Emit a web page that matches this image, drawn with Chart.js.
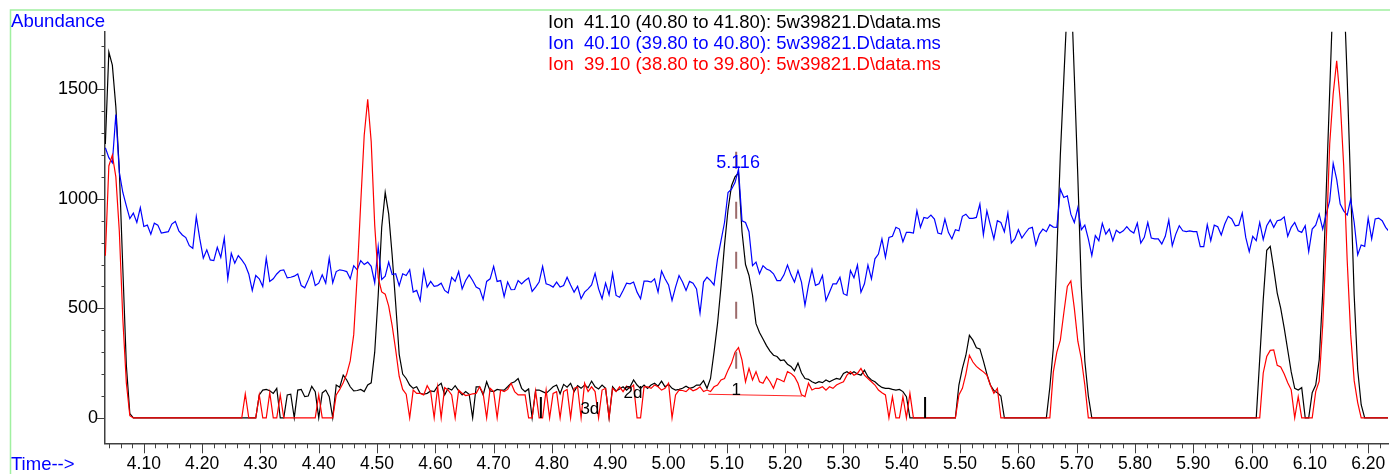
<!DOCTYPE html>
<html>
<head>
<meta charset="utf-8">
<title>Ion chromatogram 5w39821</title>
<script src="https://cdn.jsdelivr.net/npm/chart.js@4.4.1/dist/chart.umd.min.js"></script>
<style>
  html, body { margin: 0; padding: 0; background: #fff; }
  #wrap { width: 1390px; height: 474px; }
</style>
</head>
<body>
<div id="wrap"><canvas id="ionChart" width="1390" height="474"></canvas></div>
<script>
// scan timing of the run (min)
const START_TIME = 4.034;
const SCAN_STEP = 0.006;

// Ion 41.10 abundance per scan
const ion41 = [
  1250, 1670, 1610, 1420, 1130, 680, 240, 20, 0, 0,
  0, 0, 0, 0, 0, 0, 0, 0, 0, 0,
  0, 0, 0, 0, 0, 0, 0, 0, 0, 0,
  0, 0, 0, 0, 0, 0, 0, 0, 0, 0,
  0, 0, 0, 0, 105, 127, 130, 124, 112, 135,
  0, 0, 105, 108, 0, 127, 130, 97, 100, 144,
  120, 0, 114, 127, 97, 0, 150, 140, 195, 173,
  142, 123, 125, 130, 120, 150, 160, 300, 560, 870,
  1029, 930, 740, 520, 290, 200, 180, 150, 135, 142,
  112, 108, 112, 123, 120, 145, 158, 105, 135, 127,
  147, 123, 105, 120, 108, 0, 142, 142, 105, 165,
  123, 120, 130, 127, 127, 142, 158, 165, 180, 135,
  120, 132, 0, 127, 127, 120, 112, 127, 142, 150,
  110, 153, 140, 158, 120, 147, 135, 150, 138, 168,
  142, 132, 150, 135, 0, 142, 123, 132, 142, 127,
  142, 173, 150, 135, 150, 135, 150, 158, 145, 168,
  142, 153, 135, 127, 130, 135, 145, 135, 139, 150,
  150, 170, 135, 180, 300, 430, 600, 790, 950, 1060,
  1100, 1118, 850, 700, 650, 560, 430, 390, 360, 330,
  305, 286, 280, 262, 265, 245, 235, 215, 250, 205,
  180, 176, 165, 158, 165, 161, 173, 165, 173, 180,
  176, 203, 211, 200, 211, 200, 195, 218, 188, 173,
  165, 150, 139, 135, 135, 130, 127, 130, 120, 97,
  0, 0, 0, 0, 0, 0, 0, 0, 0, 0,
  0, 0, 0, 0, 150, 226, 286, 377, 355, 320,
  315, 260, 200, 150, 125, 115, 100, 0, 0, 0,
  0, 0, 0, 0, 0, 0, 0, 0, 0, 0,
  140, 320, 750, 1200, 1550, 1900, 2000, 1560, 1100, 600,
  260, 100, 0, 0, 0, 0, 0, 0, 0, 0,
  0, 0, 0, 0, 0, 0, 0, 0, 0, 0,
  0, 0, 0, 0, 0, 0, 0, 0, 0, 0,
  0, 0, 0, 0, 0, 0, 0, 0, 0, 0,
  0, 0, 0, 0, 0, 0, 0, 0, 0, 0,
  270, 540, 765, 783, 680, 570, 500, 410, 310, 210,
  135, 127, 138, 0, 0, 115, 150, 265, 570, 1030,
  1490, 1950, 2200, 2200, 1980, 1550, 1050, 560, 220, 60,
  0, 0, 0, 0, 0, 0, 0, 0
];

// Ion 40.10 abundance per scan
const ion40 = [
  1233, 1188, 1165, 1385, 1120, 1029, 968, 910, 935, 892,
  960, 874, 880, 839, 889, 880, 844, 847, 850, 885,
  897, 854, 835, 823, 786, 774, 918, 817, 729, 767,
  721, 718, 779, 733, 821, 635, 751, 706, 741, 721,
  698, 657, 582, 650, 635, 600, 729, 623, 635, 657,
  673, 676, 639, 642, 647, 657, 604, 594, 630, 670,
  604, 615, 653, 615, 730, 617, 668, 676, 673, 668,
  635, 695, 676, 718, 700, 711, 692, 617, 782, 632,
  647, 711, 654, 658, 604, 658, 650, 676, 574, 582,
  536, 673, 597, 623, 601, 604, 615, 582, 570, 642,
  623, 668, 589, 627, 653, 627, 597, 589, 541, 623,
  635, 692, 623, 627, 554, 620, 585, 586, 627, 612,
  627, 639, 577, 597, 620, 692, 612, 607, 597, 620,
  597, 604, 642, 607, 574, 601, 544, 574, 589, 607,
  660, 589, 544, 615, 562, 660, 559, 551, 582, 615,
  612, 620, 574, 544, 624, 624, 620, 635, 574, 670,
  635, 607, 536, 597, 650, 620, 582, 623, 615, 589,
  479, 620, 642, 627, 607, 726, 809, 892, 1029, 1044,
  1074, 1135, 900, 892, 850, 695, 711, 658, 695, 680,
  673, 658, 627, 627, 653, 698, 653, 620, 673, 620,
  514, 605, 677, 605, 612, 650, 536, 574, 612, 612,
  642, 567, 559, 673, 640, 698, 574, 612, 698, 635,
  726, 748, 817, 733, 824, 829, 870, 862, 804, 847,
  847, 844, 945, 870, 915, 911, 926, 908, 844, 839,
  908, 847, 817, 859, 854, 920, 930, 911, 911, 915,
  976, 836, 945, 880, 817, 900, 892, 850, 935, 798,
  817, 859, 821, 844, 865, 870, 789, 839, 862, 850,
  882, 871, 870, 1044, 1006, 1014, 930, 892, 960, 859,
  880, 817, 741, 832, 809, 888, 839, 862, 809, 857,
  844, 854, 873, 854, 844, 889, 798, 824, 892, 821,
  817, 817, 794, 829, 903, 786, 839, 877, 854, 850,
  854, 850, 850, 782, 782, 882, 809, 880, 873, 835,
  885, 920, 908, 877, 880, 935, 824, 759, 829, 809,
  892, 814, 877, 904, 870, 900, 904, 918, 829, 870,
  892, 854, 847, 877, 759, 862, 880, 930, 862, 930,
  991, 1162, 1089, 976, 945, 926, 998, 892, 744, 789,
  783, 912, 817, 908, 912, 900, 870, 850
];

// Ion 39.10 abundance per scan
const ion39 = [
  740, 1150, 1200, 1100, 850, 450, 160, 10, 0, 0,
  0, 0, 0, 0, 0, 0, 0, 0, 0, 0,
  0, 0, 0, 0, 0, 0, 0, 0, 0, 0,
  0, 0, 0, 0, 0, 0, 0, 0, 0, 0,
  109, 0, 0, 0, 105, 0, 0, 115, 0, 0,
  105, 0, 0, 0, 0, 0, 0, 0, 0, 0,
  0, 105, 0, 0, 0, 0, 105, 130, 160, 200,
  260, 380, 650, 980, 1290, 1454, 1260, 880, 640, 575,
  565, 510, 420, 310, 190, 130, 108, 0, 127, 112,
  112, 105, 147, 120, 0, 142, 0, 138, 127, 105,
  0, 127, 112, 102, 105, 110, 112, 142, 112, 0,
  135, 120, 0, 127, 120, 130, 158, 120, 105, 105,
  105, 0, 0, 123, 0, 0, 127, 0, 112, 120,
  0, 120, 130, 0, 135, 142, 0, 158, 120, 142,
  120, 0, 127, 135, 0, 135, 120, 142, 120, 145,
  135, 150, 0, 0, 142, 142, 135, 150, 142, 127,
  135, 158, 0, 105, 127, 125, 120, 135, 124, 130,
  142, 120, 127, 120, 142, 150, 173, 180, 218, 250,
  300, 321, 264, 165, 226, 173, 211, 165, 158, 188,
  165, 135, 180, 173, 165, 211, 203, 188, 158, 105,
  97, 158, 127, 135, 135, 142, 127, 142, 135, 150,
  158, 165, 195, 211, 195, 203, 226, 195, 180, 165,
  150, 127, 115, 105, 0, 97, 0, 0, 97, 0,
  112, 0, 0, 0, 0, 0, 0, 0, 0, 0,
  0, 0, 0, 0, 105, 135, 200, 286, 255, 235,
  222, 210, 195, 150, 112, 135, 0, 0, 0, 0,
  0, 0, 0, 0, 0, 0, 0, 0, 0, 0,
  0, 210, 300, 355, 480, 600, 625, 500, 350, 270,
  150, 0, 0, 0, 0, 0, 0, 0, 0, 0,
  0, 0, 0, 0, 0, 0, 0, 0, 0, 0,
  0, 0, 0, 0, 0, 0, 0, 0, 0, 0,
  0, 0, 0, 0, 0, 0, 0, 0, 0, 0,
  0, 0, 0, 0, 0, 0, 0, 0, 0, 0,
  0, 205, 280, 308, 310, 240, 232, 200, 160, 128,
  0, 97, 0, 0, 0, 0, 120, 168, 423, 800,
  1250, 1480, 1630, 1450, 1150, 720, 380, 170, 70, 0,
  0, 0, 0, 0, 0, 0, 0, 0
];

const ionLegend = [
  'Ion  41.10 (40.80 to 41.80): 5w39821.D\\data.ms',
  'Ion  40.10 (39.80 to 40.80): 5w39821.D\\data.ms',
  'Ion  39.10 (38.80 to 39.80): 5w39821.D\\data.ms'
];
const ionColors = ['#000000', '#0000ff', '#ff0000'];

const xTickLabels = ['4.10', '4.20', '4.30', '4.40', '4.50', '4.60', '4.70', '4.80', '4.90', '5.00', '5.10',
  '5.20', '5.30', '5.40', '5.50', '5.60', '5.70', '5.80', '5.90', '6.00', '6.10', '6.20'];
const yTickLabels = [0, 500, 1000, 1500];

// integration marks
const apexTime = 5.116;
const apexDashLevels = [1215, 150];
const baselineTimes = [5.068, 5.229];
const baselineLevels = [108, 100];
const eventTimes = [4.781, 5.440];
const eventHeight = 95;
const peakTags = [
  { text: '3d', t: 4.865, y: 40 },
  { text: '2d', t: 4.939, y: 113 },
  { text: '1', t: 5.116, y: 127 }
];

const FONT = '"Liberation Sans", Arial, sans-serif';
const AXIS_COLOR = '#404040';
Chart.defaults.font.family = FONT;

const scanTimes = ion41.map((_, i) => START_TIME + i * SCAN_STEP);
const toPoints = (vals) => vals.map((v, i) => ({ x: scanTimes[i], y: v }));

const isMajorX = (v) => xTickLabels.includes(v.toFixed(2));

// axis tick marks: long at labelled values, short in between
const tickMarks = {
  id: 'tickMarks',
  afterDraw(chart) {
    const { ctx, scales: { x, y } } = chart;
    ctx.save();
    ctx.strokeStyle = AXIS_COLOR;
    ctx.lineWidth = 1;
    ctx.beginPath();
    x.ticks.forEach((t) => {
      const px = Math.round(x.getPixelForValue(t.value)) + 0.5;
      const len = isMajorX(t.value) ? 10 : 5;
      ctx.moveTo(px, x.top);
      ctx.lineTo(px, x.top + len);
    });
    y.ticks.forEach((t) => {
      const py = Math.round(y.getPixelForValue(t.value)) + 0.5;
      const len = yTickLabels.includes(t.value) ? 8 : 3.5;
      ctx.moveTo(y.right, py);
      ctx.lineTo(y.right - len, py);
    });
    ctx.stroke();
    ctx.restore();
  }
};

// frame, axis captions, ion list and peak text
const captions = {
  id: 'captions',
  beforeDraw(chart) {
    const { ctx } = chart;
    ctx.save();
    ctx.strokeStyle = '#a0f0a0';
    ctx.lineWidth = 1.5;
    ctx.beginPath();
    ctx.moveTo(10.5, 474);
    ctx.lineTo(10.5, 10);
    ctx.lineTo(1390, 10);
    ctx.stroke();
    ctx.restore();
  },
  afterDraw(chart) {
    const { ctx, scales: { x, y } } = chart;
    ctx.save();
    ctx.textBaseline = 'alphabetic';
    ctx.fillStyle = '#0000ff';
    ctx.textAlign = 'left';
    ctx.font = '18.6px ' + FONT;
    ctx.fillText('Abundance', 11, 27);
    ctx.font = '18.5px ' + FONT;
    ctx.fillText('Time-->', 11, 470);

    ctx.font = '18.5px ' + FONT;
    ionLegend.forEach((txt, i) => {
      ctx.fillStyle = ionColors[i];
      ctx.fillText(txt, 548, 28 + i * 21);
    });

    ctx.fillStyle = '#0000ff';
    ctx.font = '18px ' + FONT;
    ctx.fillText(apexTime.toFixed(3), x.getPixelForValue(apexTime) - 20, y.getPixelForValue(1139));

    ctx.fillStyle = '#000000';
    ctx.font = '17px ' + FONT;
    ctx.textAlign = 'center';
    ctx.textBaseline = 'middle';
    peakTags.forEach((p) => {
      ctx.fillText(p.text, x.getPixelForValue(p.t), y.getPixelForValue(p.y));
    });
    ctx.restore();
  }
};

const lineSet = (label, vals, color, order) => ({
  label,
  data: toPoints(vals),
  borderColor: color,
  borderWidth: 1.2,
  pointRadius: 0,
  tension: 0,
  fill: false,
  order
});

const segment = (xs, ys, color, width, order, dash) => ({
  data: xs.map((t, i) => ({ x: t, y: ys[i] })),
  borderColor: color,
  borderWidth: width,
  borderDash: dash || [],
  pointRadius: 0,
  fill: false,
  order
});

const datasets = [
  lineSet('Ion 41.10', ion41, ionColors[0], 3),
  lineSet('Ion 40.10', ion40, ionColors[1], 2),
  lineSet('Ion 39.10', ion39, ionColors[2], 1),
  segment(baselineTimes, baselineLevels, '#ff2a2a', 1.2, 0),
  segment([apexTime, apexTime], apexDashLevels, '#9c6b6b', 2, 0, [17, 33]),
  ...eventTimes.map((t) => segment([t, t], [0, eventHeight], '#000000', 2, 0))
];

new Chart(document.getElementById('ionChart'), {
  type: 'line',
  data: { datasets },
  options: {
    responsive: false,
    animation: false,
    devicePixelRatio: 1,
    layout: { padding: { top: 31.7, right: 2, left: 0, bottom: 0 } },
    plugins: { legend: { display: false }, tooltip: { enabled: false } },
    scales: {
      x: {
        type: 'linear',
        min: 4.0334,
        max: 6.234,
        afterFit: (s) => { s.height = 30.7; },
        afterBuildTicks: (s) => {
          const ticks = [];
          for (let k = 202; k <= 311; k++) ticks.push({ value: k / 50 });
          s.ticks = ticks;
        },
        grid: { display: false, drawTicks: false },
        border: { display: true, color: AXIS_COLOR, width: 1.5 },
        ticks: {
          autoSkip: false,
          maxRotation: 0,
          padding: 10,
          color: '#000',
          font: { size: 17.5 },
          callback: (v) => (isMajorX(v) ? v.toFixed(2) : '')
        }
      },
      y: {
        type: 'linear',
        min: -116,
        max: 1763,
        afterFit: (s) => { s.width = 105; },
        afterBuildTicks: (s) => {
          const ticks = [];
          for (let v = 0; v <= 1700; v += 100) ticks.push({ value: v });
          s.ticks = ticks;
        },
        grid: { display: false, drawTicks: false },
        border: { display: true, color: AXIS_COLOR, width: 1.5 },
        ticks: {
          autoSkip: false,
          padding: 7,
          color: '#000',
          font: { size: 18 },
          callback: (v) => (yTickLabels.includes(v) ? String(v) : '')
        }
      }
    }
  },
  plugins: [tickMarks, captions]
});
</script>
</body>
</html>
